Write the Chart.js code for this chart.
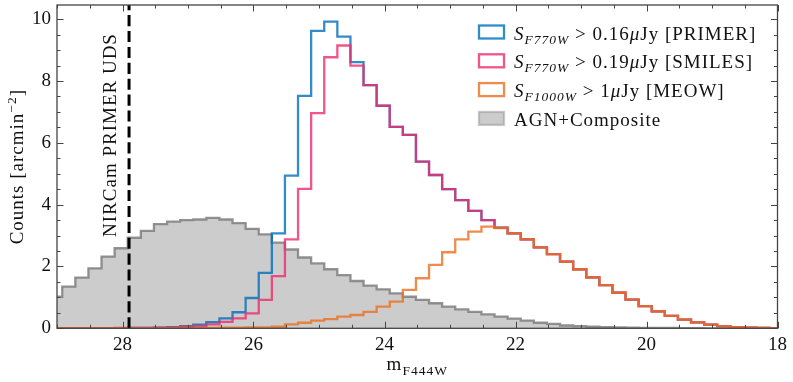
<!DOCTYPE html>
<html><head><meta charset="utf-8">
<script src="https://cdn.jsdelivr.net/npm/chart.js@4.4.1/dist/chart.umd.min.js"></script>
<style>html,body{margin:0;padding:0;background:#fff;overflow:hidden}#wrap{width:793px;height:382px;position:relative}</style>
</head><body><div id="wrap"><canvas id="c" width="793" height="382"></canvas></div>
<script>
// Histogram bin edges (m_F444W), from faint to bright
const binEdges = [29.12, 28.92, 28.72, 28.52, 28.32, 28.12, 27.92, 27.72, 27.52, 27.32, 27.12, 26.92, 26.72, 26.52, 26.32, 26.12, 25.92, 25.72, 25.52, 25.32, 25.12, 24.92, 24.72, 24.52, 24.32, 24.12, 23.92, 23.72, 23.52, 23.32, 23.12, 22.92, 22.72, 22.52, 22.32, 22.12, 21.92, 21.72, 21.52, 21.32, 21.12, 20.92, 20.72, 20.52, 20.32, 20.12, 19.92, 19.72, 19.52, 19.32, 19.12, 18.92, 18.72, 18.52, 18.32, 18.12, 17.92];
// Counts [arcmin^-2] per bin
const primerCounts = [0, 0, 0, 0, 0, 0, 0.01, 0.01, 0.02, 0.04, 0.07, 0.12, 0.2, 0.32, 0.52, 0.98, 1.79, 3.07, 4.94, 7.52, 9.62, 9.92, 9.44, 8.61, 7.87, 7.2, 6.52, 6.26, 5.39, 4.96, 4.5, 4.15, 3.8, 3.5, 3.26, 3.07, 2.88, 2.62, 2.4, 2.16, 1.91, 1.65, 1.4, 1.15, 0.93, 0.72, 0.55, 0.4, 0.28, 0.19, 0.12, 0.07, 0.04, 0.02, 0.01, 0.005];
const smilesCounts = [0.005, 0.005, 0.005, 0.005, 0.005, 0.01, 0.01, 0.01, 0.02, 0.03, 0.05, 0.07, 0.13, 0.21, 0.32, 0.48, 0.92, 1.69, 2.88, 4.51, 6.96, 8.77, 9.15, 8.5, 7.87, 7.2, 6.52, 6.26, 5.39, 4.96, 4.5, 4.15, 3.8, 3.5, 3.26, 3.07, 2.88, 2.62, 2.4, 2.16, 1.91, 1.65, 1.4, 1.15, 0.93, 0.72, 0.55, 0.4, 0.28, 0.19, 0.12, 0.07, 0.04, 0.02, 0.01, 0.005];
const meowCounts = [0.005, 0.005, 0.005, 0.005, 0.005, 0.005, 0.005, 0.005, 0.005, 0.005, 0.01, 0.01, 0.015, 0.02, 0.02, 0.03, 0.03, 0.05, 0.13, 0.18, 0.25, 0.3, 0.38, 0.43, 0.53, 0.7, 0.86, 1.24, 1.62, 2.05, 2.46, 2.88, 3.13, 3.29, 3.24, 3.07, 2.88, 2.62, 2.4, 2.16, 1.91, 1.65, 1.4, 1.15, 0.93, 0.72, 0.55, 0.4, 0.28, 0.19, 0.12, 0.07, 0.04, 0.02, 0.01, 0.005];
const agnCounts = [1.02, 1.35, 1.64, 1.94, 2.32, 2.59, 2.93, 3.15, 3.37, 3.45, 3.5, 3.52, 3.57, 3.52, 3.4, 3.22, 3.04, 2.77, 2.55, 2.29, 2.1, 1.91, 1.72, 1.53, 1.38, 1.26, 1.13, 1.02, 0.92, 0.81, 0.7, 0.61, 0.53, 0.45, 0.38, 0.31, 0.25, 0.18, 0.14, 0.09, 0.07, 0.05, 0.04, 0.03, 0.02, 0.015, 0.01, 0.01, 0.005, 0.005, 0, 0, 0, 0, 0, 0];
const xTickValues = [28, 26, 24, 22, 20, 18];
const yTickValues = [0, 2, 4, 6, 8, 10];
const nircamLimit = 27.9;
const nircamLabel = 'NIRCam PRIMER UDS';
const surveyNames = ['PRIMER', 'SMILES', 'MEOW'];
const surveyFilters = ['F770W', 'F770W', 'F1000W'];
const surveyLimits = ['0.16', '0.19', '1'];
const agnLabel = 'AGN+Composite';
const xTitleMain = 'm', xTitleSub = 'F444W';
const yTitle = ['Counts [arcmin', '\u22122', ']'];

const COLORS = {
  primer: 'rgba(0,110,185,0.8)',
  smiles: 'rgba(236,42,111,0.8)',
  meow: 'rgba(236,111,30,0.8)',
  agnEdge: 'rgba(120,120,120,0.8)',
  agnFill: 'rgba(128,128,128,0.4)'
};
const FAM = '"Liberation Serif", "Times New Roman", serif';

function steps(counts) {
  return binEdges.map((e, i) => ({ x: e, y: counts[Math.min(i, counts.length - 1)] }));
}
function lineDs(label, counts, color, order) {
  return { label, data: steps(counts), borderColor: color, backgroundColor: color, borderWidth: 2.3,
    stepped: true, pointRadius: 0, fill: false, borderJoinStyle: 'miter', borderCapStyle: 'butt', order };
}

function drawRich(ctx, segs, x, y, align) {
  let total = 0;
  segs.forEach(s => { ctx.font = s.f; s.w = ctx.measureText(s.t).width; total += s.w; });
  let cx = align === 'center' ? x - total / 2 : x;
  segs.forEach(s => { ctx.font = s.f; ctx.fillText(s.t, cx, y + (s.dy || 0)); cx += s.w; });
}
const F = (sz, it) => (it ? 'italic ' : '') + sz + 'px ' + FAM;

const decor = {
  id: 'decor',
  afterDatasetsDraw(chart) {
    const { ctx, chartArea: a, scales: { x } } = chart;
    ctx.save();
    ctx.beginPath(); ctx.rect(a.left, a.top, a.right - a.left, a.bottom - a.top); ctx.clip();
    const px = x.getPixelForValue(nircamLimit);
    ctx.strokeStyle = '#000'; ctx.lineWidth = 3; ctx.setLineDash([11.1, 4.8]);
    ctx.beginPath(); ctx.moveTo(px, a.bottom); ctx.lineTo(px, a.top); ctx.stroke();
    ctx.restore();
  },
  afterDraw(chart) {
    const { ctx, chartArea: a, scales: { x, y } } = chart;
    ctx.save();
    try { ctx.letterSpacing = '1px'; } catch (e) {}
    ctx.fillStyle = '#111'; ctx.textBaseline = 'alphabetic'; ctx.textAlign = 'left';
    // NIRCam text
    const px = x.getPixelForValue(nircamLimit);
    ctx.save(); ctx.translate(px - 13, a.top + 130); ctx.rotate(-Math.PI / 2);
    drawRich(ctx, [{ t: nircamLabel, f: F(19) }], 0, 0, 'center');
    ctx.restore();
    // legend
    const lx = a.right - 298.5, tx = a.right - 263.5;
    const cols = [COLORS.primer, COLORS.smiles, COLORS.meow];
    for (let k = 0; k < 4; k++) {
      const bl = a.top + 34.5 + 28.8 * k;
      const by = bl - 14;
      if (k < 3) {
        ctx.strokeStyle = cols[k]; ctx.lineWidth = 2.3;
        ctx.strokeRect(lx, by, 25, 13);
        drawRich(ctx, [
          { t: 'S', f: F(19, true) },
          { t: surveyFilters[k], f: F(13.5, true), dy: 4 },
          { t: ' > ' + surveyLimits[k], f: F(19) },
          { t: '\u03bc', f: F(19, true) },
          { t: 'Jy [' + surveyNames[k] + ']', f: F(19) }
        ], tx, bl, 'left');
      } else {
        ctx.fillStyle = COLORS.agnFill; ctx.fillRect(lx, by, 25, 13);
        ctx.strokeStyle = 'rgba(150,150,150,0.5)'; ctx.lineWidth = 2.3; ctx.strokeRect(lx, by, 25, 13);
        ctx.fillStyle = '#111';
        drawRich(ctx, [{ t: agnLabel, f: F(19) }], tx, bl, 'left');
      }
    }
    // axis titles
    drawRich(ctx, [{ t: xTitleMain, f: F(19) }, { t: xTitleSub, f: F(13.5), dy: 4.5 }], (a.left + a.right) / 2, 370, 'center');
    ctx.save(); ctx.translate(23, (a.top + a.bottom) / 2); ctx.rotate(-Math.PI / 2);
    drawRich(ctx, [{ t: yTitle[0], f: F(19) }, { t: yTitle[1], f: F(13.5), dy: -7 }, { t: yTitle[2], f: F(19) }], 0, 0, 'center');
    ctx.restore();
    // frame and inward ticks
    ctx.strokeStyle = '#444'; ctx.lineWidth = 1; ctx.setLineDash([]);
    ctx.beginPath();
    for (let v = 18; v <= 29.001; v += 0.5) {
      const p = Math.round(x.getPixelForValue(v)) + 0.5;
      const L = Math.abs(v % 2) < 1e-6 ? 6.5 : 3.5;
      ctx.moveTo(p, a.bottom); ctx.lineTo(p, a.bottom - L);
      ctx.moveTo(p, a.top); ctx.lineTo(p, a.top + L);
    }
    for (let v = 0; v <= 10.46; v += 0.5) {
      const p = Math.round(y.getPixelForValue(v)) + 0.5;
      const L = Math.abs(v % 2) < 1e-6 ? 6.5 : 3.5;
      ctx.moveTo(a.left, p); ctx.lineTo(a.left + L, p);
      ctx.moveTo(a.right, p); ctx.lineTo(a.right - L, p);
    }
    ctx.stroke();
    ctx.lineWidth = 1.3;
    ctx.strokeRect(a.left, a.top, a.right - a.left, a.bottom - a.top);
    ctx.restore();
  }
};

const tickFont = { family: FAM, size: 19 };
new Chart(document.getElementById('c'), {
  type: 'line',
  data: {
    datasets: [
      { label: agnLabel, data: steps(agnCounts), borderColor: COLORS.agnEdge, backgroundColor: COLORS.agnFill,
        borderWidth: 2.3, stepped: true, pointRadius: 0, fill: 'origin', borderJoinStyle: 'miter', order: 4 },
      lineDs(surveyNames[0], primerCounts, COLORS.primer, 3),
      lineDs(surveyNames[1], smilesCounts, COLORS.smiles, 2),
      lineDs(surveyNames[2], meowCounts, COLORS.meow, 1)
    ]
  },
  options: {
    responsive: false, animation: false, devicePixelRatio: 1, parsing: false,
    layout: { padding: { left: 0, right: 15.5, top: 5, bottom: 0 } },
    plugins: { legend: { display: false }, tooltip: { enabled: false } },
    scales: {
      x: { type: 'linear', reverse: true, min: 18, max: 29,
        afterBuildTicks: s => { s.ticks = xTickValues.map(v => ({ value: v })); },
        afterFit: s => { s.height = 53.7; s.paddingLeft = 0; s.paddingRight = 0; },
        grid: { display: false, drawTicks: false }, border: { display: false },
        ticks: { padding: 5, font: tickFont, color: '#111', maxRotation: 0, autoSkip: false, callback: v => String(v) } },
      y: { type: 'linear', min: 0, max: 10.46,
        afterBuildTicks: s => { s.ticks = yTickValues.map(v => ({ value: v })); },
        afterFit: s => { s.width = 57; s.paddingTop = 0; s.paddingBottom = 0; },
        grid: { display: false, drawTicks: false }, border: { display: false },
        ticks: { padding: 6, font: tickFont, color: '#111', autoSkip: false, callback: v => String(v) } }
    }
  },
  plugins: [decor]
});
</script>
</body></html>
